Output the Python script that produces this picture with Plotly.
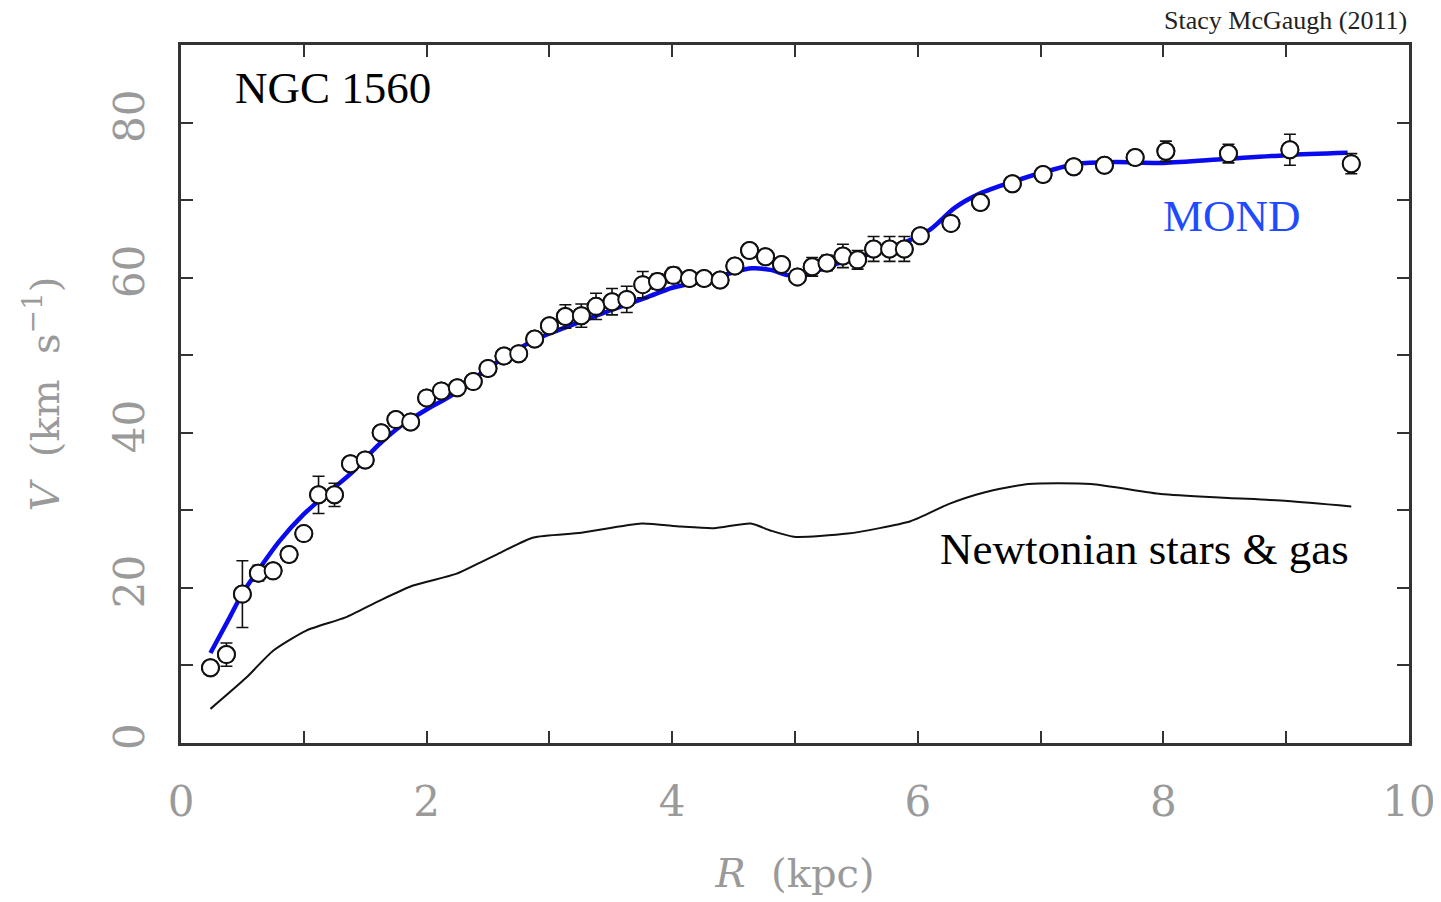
import plotly.graph_objects as go

# Observed rotation curve of NGC 1560
R_obs = [0.24, 0.37, 0.50, 0.63, 0.75, 0.88, 1.00, 1.12, 1.25, 1.38, 1.50, 1.63, 1.75, 1.87,
         2.00, 2.12, 2.25, 2.38, 2.50, 2.63, 2.75, 2.88, 3.00, 3.13, 3.26, 3.38, 3.51, 3.63,
         3.76, 3.88, 4.01, 4.14, 4.26, 4.39, 4.51, 4.63, 4.76, 4.89, 5.02, 5.14, 5.26, 5.39,
         5.51, 5.64, 5.77, 5.89, 6.02, 6.27, 6.51, 6.77, 7.02, 7.27, 7.52, 7.77, 8.02, 8.53,
         9.03, 9.53]
V_obs = [9.7, 11.4, 19.2, 21.9, 22.2, 24.3, 27.0, 32.0, 32.0, 36.0, 36.5, 40.0, 41.7, 41.4,
         44.5, 45.4, 45.8, 46.6, 48.3, 49.9, 50.2, 52.1, 53.8, 55.0, 55.1, 56.3, 56.9, 57.2,
         59.1, 59.5, 60.3, 59.9, 59.9, 59.7, 61.5, 63.5, 62.7, 61.7, 60.1, 61.4, 61.9, 62.8,
         62.3, 63.7, 63.7, 63.7, 65.4, 67.0, 69.7, 72.1, 73.3, 74.3, 74.5, 75.5, 76.3, 76.0,
         76.5, 74.7]
V_err = [0.8, 1.5, 4.3, 1.0, 0.6, 0.8, 0.8, 2.4, 1.5, 0.8, 0.6, 0.7, 0.8, 0.6,
         0.7, 0.6, 0.6, 0.6, 0.6, 0.6, 0.7, 0.6, 0.7, 1.5, 1.5, 1.7, 1.7, 1.7,
         1.7, 1.0, 1.0, 0.6, 0.6, 0.6, 0.6, 0.6, 0.6, 0.6, 0.6, 1.2, 1.0, 1.5,
         1.2, 1.6, 1.6, 1.6, 0.8, 0.6, 0.6, 0.7, 0.7, 0.9, 0.7, 0.9, 1.3, 1.2,
         2.0, 1.3]

# MOND fit
R_mond = [0.24, 0.40, 0.50, 0.63, 0.80, 1.00, 1.20, 1.40, 1.60, 1.80, 2.00, 2.20, 2.50,
          2.80, 3.00, 3.20, 3.50, 3.80, 4.00, 4.30, 4.50, 4.65, 4.80, 4.95, 5.10, 5.30,
          5.60, 5.90, 6.10, 6.30, 6.50, 6.80, 7.00, 7.30, 7.60, 8.00, 8.50, 9.00, 9.50]
V_mond = [11.6, 16.3, 19.3, 22.3, 26.0, 29.5, 32.3, 35.0, 38.3, 41.0, 43.0, 44.8, 48.3,
          51.3, 52.8, 54.0, 55.8, 57.5, 58.7, 59.7, 60.7, 61.2, 61.0, 60.3, 60.5, 61.6,
          63.0, 64.6, 66.2, 69.0, 70.8, 72.5, 73.5, 74.7, 74.9, 74.8, 75.3, 75.8, 76.1]

# Newtonian contribution of stars & gas
R_newt = [0.24, 0.53, 0.75, 1.02, 1.34, 1.61, 1.89, 2.24, 2.44, 2.57, 2.87, 3.26, 3.75,
          4.07, 4.34, 4.64, 4.80, 4.99, 5.43, 5.94, 6.25, 6.54, 6.90, 7.41, 7.98, 8.53,
          9.01, 9.53]
V_newt = [4.4, 8.4, 11.9, 14.5, 16.2, 18.3, 20.3, 21.8, 23.3, 24.3, 26.5, 27.1, 28.3,
          27.9, 27.7, 28.3, 27.4, 26.6, 27.0, 28.6, 30.8, 32.3, 33.4, 33.4, 32.1, 31.6,
          31.2, 30.5]

fig = go.Figure()

fig.add_trace(go.Scatter(
    x=R_newt, y=V_newt, mode="lines",
    line=dict(color="#111111", width=2, shape="spline", smoothing=0.6),
    showlegend=False, hoverinfo="skip"))

fig.add_trace(go.Scatter(
    x=R_mond, y=V_mond, mode="lines",
    line=dict(color="#0a0aee", width=4.5, shape="spline", smoothing=0.8),
    showlegend=False, hoverinfo="skip"))

# error bars (drawn first), then open circles on top
fig.add_trace(go.Scatter(
    x=R_obs, y=V_obs, mode="markers",
    marker=dict(symbol="circle", size=17, color="white",
                line=dict(color="#111111", width=2)),
    error_y=dict(type="data", array=V_err, visible=True,
                 color="#111111", thickness=1.6, width=6),
    showlegend=False, hoverinfo="skip"))
fig.add_trace(go.Scatter(
    x=R_obs, y=V_obs, mode="markers",
    marker=dict(symbol="circle", size=17, color="white",
                line=dict(color="#111111", width=2)),
    showlegend=False))

tick_font = dict(family="DejaVu Serif", size=42, color="#9a9a9a")
title_font = dict(family="DejaVu Serif", size=40, color="#9a9a9a")
minor_ticks = dict(ticks="inside", ticklen=12, tickwidth=2, tickcolor="#333333", showgrid=False)

fig.update_xaxes(
    range=[0, 10], tick0=0, dtick=2,
    ticks="inside", ticklen=12, tickwidth=2, tickcolor="#333333",
    minor=dict(dtick=1, **minor_ticks),
    showline=True, linecolor="#333333", linewidth=2.5, mirror="ticks",
    showgrid=False, zeroline=False, tickfont=tick_font,
    ticklabelstandoff=20,
    title=dict(text="<i>R</i>  (kpc)", font=title_font, standoff=34))

fig.update_yaxes(
    range=[0, 90], tick0=0, dtick=20,
    ticks="inside", ticklen=12, tickwidth=2, tickcolor="#333333",
    minor=dict(dtick=10, **minor_ticks),
    showline=True, linecolor="#333333", linewidth=2.5, mirror="ticks",
    showgrid=False, zeroline=False, tickfont=tick_font, tickangle=-90,
    ticklabelstandoff=17,
    title=dict(text="<i>V</i>  (km  s<sup>−1</sup>)", font=title_font, standoff=34))

serif = "Liberation Serif"
fig.add_annotation(x=0.42, y=84.4, xref="x", yref="y", text="NGC 1560",
                   showarrow=False, xanchor="left", yanchor="middle",
                   font=dict(family=serif, size=45, color="#000000"))
fig.add_annotation(x=8.56, y=68.0, xref="x", yref="y", text="MOND",
                   showarrow=False, xanchor="center", yanchor="middle",
                   font=dict(family=serif, size=45, color="#1f4bff"))
fig.add_annotation(x=7.85, y=25.0, xref="x", yref="y", text="Newtonian stars &amp; gas",
                   showarrow=False, xanchor="center", yanchor="middle",
                   font=dict(family=serif, size=45, color="#000000"))
fig.add_annotation(x=1.0, y=1.0, xref="paper", yref="paper", yshift=8,
                   text="Stacy McGaugh (2011)",
                   showarrow=False, xanchor="right", yanchor="bottom",
                   font=dict(family=serif, size=26, color="#222222"))

fig.update_layout(
    width=1441, height=902,
    margin=dict(l=173, r=40, t=37, b=167),
    plot_bgcolor="white", paper_bgcolor="white",
    showlegend=False)

fig.write_html("out.html")
